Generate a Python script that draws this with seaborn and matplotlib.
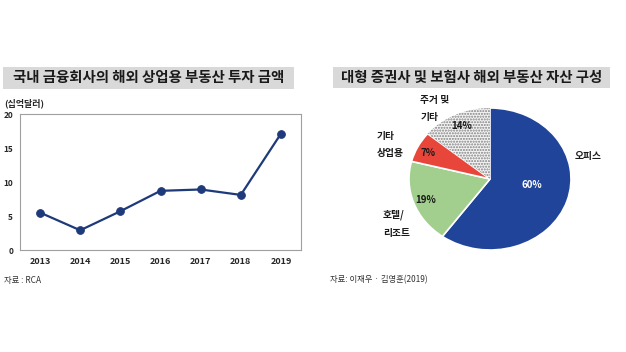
import matplotlib
matplotlib.use("Agg")
import matplotlib.pyplot as plt
import seaborn as sns
import pandas as pd
from matplotlib.patches import Rectangle

years = ["2013", "2014", "2015", "2016", "2017", "2018", "2019"]
amounts = [5.5, 2.9, 5.7, 8.7, 8.9, 8.1, 17.1]
yticks = [0, 5, 10, 15, 20]

pie_labels = ["오피스", "호텔/\n리조트", "기타\n상업용", "주거 및\n기타"]
pie_values = [60, 19, 7, 14]
pie_pct = ["60%", "19%", "7%", "14%"]

sns.set_theme(style="white")
plt.rcParams['font.family'] = ['Noto Sans CJK KR', 'DejaVu Sans']
plt.rcParams['hatch.color'] = "#808080"

W, H = 626, 352
fig = plt.figure(figsize=(W / 100, H / 100), dpi=100)
fig.patch.set_facecolor("white")

def fx(x): return x / W
def fy(y): return 1 - y / H

# Title bars
for (x0, x1, y0, y1, txt) in [(3, 294, 67, 89, "국내 금융회사의 해외 상업용 부동산 투자 금액"),
                              (333, 610, 67, 88, "대형 증권사 및 보험사 해외 부동산 자산 구성")]:
    fig.patches.append(Rectangle((fx(x0), fy(y1)), fx(x1) - fx(x0), fy(y0) - fy(y1),
                                 transform=fig.transFigure, facecolor="#D9D9D9", edgecolor="none"))
    fig.text(fx((x0 + x1) / 2), fy((y0 + y1) / 2), txt, ha="center", va="center",
             fontsize=10.4, fontweight="bold", color="#1a1a1a")

# Line chart
ax = fig.add_axes([fx(20), fy(250), fx(301) - fx(20), fy(114) - fy(250)])
df = pd.DataFrame({"year": years, "amount": amounts})
sns.lineplot(data=df, x="year", y="amount", ax=ax, color="#1F3A7A", linewidth=1.6,
             marker="o", markersize=5.5, markerfacecolor="#1F3A7A", markeredgecolor="#1F3A7A")
ax.set_xlim(-0.5, len(years) - 0.5)
ax.set_ylim(0, 20)
ax.set_yticks(yticks)
ax.set_yticklabels([str(t) for t in yticks], fontsize=6, fontweight="bold")
ax.set_xticks(range(len(years)))
ax.set_xticklabels(years, fontsize=6.5, fontweight="bold")
ax.tick_params(axis="y", pad=5, length=0)
ax.tick_params(axis="x", pad=5, length=0)
ax.set_xlabel("")
ax.set_ylabel("")
for s in ax.spines.values():
    s.set_color("#A0A0A0")
    s.set_linewidth(0.8)
fig.text(fx(4), fy(103), "(십억달러)", fontsize=6.5, fontweight="bold", va="center", ha="left")
fig.text(fx(4), fy(280), "자료 : RCA", fontsize=6, va="center", ha="left", color="#333333")

# Pie chart
cx, cy = 490, 179
rx, ry = 81, 71
axp = fig.add_axes([fx(cx - 1.5 * rx), fy(cy + 1.3 * ry), fx(3 * rx), fy(0) - fy(2.6 * ry)])
colors = ["#1F449A", "#A2CF8E", "#E8463B", "#F4F4F4"]
wedges, _ = axp.pie(pie_values, colors=colors, startangle=90, counterclock=False,
                    wedgeprops=dict(edgecolor="white", linewidth=1.2))
wedges[3].set_hatch("......")
wedges[3].set_edgecolor("#808080")
wedges[3].set_linewidth(0)
axp.set_aspect("auto")
axp.set_xlim(-1.5, 1.5)
axp.set_ylim(-1.3, 1.3)
axp.axis("off")

lab_pos = [(1.05, 0.32), (-1.32, -0.63), (-1.40, 0.49), (-0.86, 0.99)]
for (x, y), t in zip(lab_pos, pie_labels):
    axp.text(x, y, t, ha="left", va="center", fontsize=7, fontweight="bold",
             linespacing=1.9, color="#1a1a1a")
pct_pos = [(0.52, -0.08), (-0.79, -0.30), (-0.77, 0.36), (-0.35, 0.74)]
pct_col = ["white", "#1a1a1a", "#1a1a1a", "#1a1a1a"]
for (x, y), t, c in zip(pct_pos, pie_pct, pct_col):
    axp.text(x, y, t, ha="center", va="center", fontsize=7, fontweight="bold", color=c)

fig.text(fx(330), fy(280), "자료: 이재우 · 김영훈(2019)", fontsize=6, va="center", ha="left", color="#333333")

fig.savefig("out.png", dpi=100)
